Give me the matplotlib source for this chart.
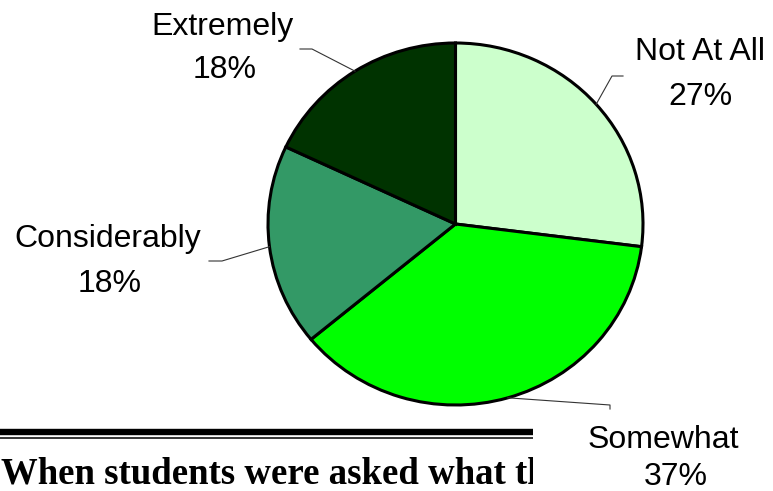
import matplotlib
matplotlib.use("Agg")
import matplotlib.pyplot as plt
import numpy as np

# data
labels = ["Not At All", "Somewhat", "Considerably", "Extremely"]
values = [27, 37, 18, 18]
colors = ["#CCFFCC", "#00FF00", "#339966", "#003300"]

# label layout in image pixels (x, baseline y), top-left origin
name_pos = [(700, 60), (663, 448), (108, 247), (222, 35)]
pct_pos = [(700, 105), (676, 485), (110, 292), (225, 78)]
leader_elbow = [(612, 76), (610, 405), (222, 261), (312, 49)]
leader_end = [(623, 76), (610, 409), (209, 261), (300, 49)]

W, H = 773, 491
cx, cy = 455.5, 224.0   # pie centre in pixels
rx, ry = 187.5, 181.0   # pie radii in pixels (slightly squashed, as in the original)


def px(x, y):
    """pixel (top-left origin) -> axes data units"""
    return (x - cx) / rx, (cy - y) / ry


plt.rcParams["font.family"] = ["Liberation Sans", "DejaVu Sans"]

fig = plt.figure(figsize=(W / 100, H / 100), dpi=100)
ax = fig.add_axes([0, 0, 1, 1])

wedges, _ = ax.pie(values, colors=colors, startangle=90, counterclock=False,
                   wedgeprops=dict(edgecolor="black", linewidth=2.2))
ax.set_aspect("auto")
ax.set_xlim(-cx / rx, (W - cx) / rx)
ax.set_ylim(-(H - cy) / ry, cy / ry)
ax.axis("off")

# labels with leader lines from the middle of each wedge
for w, lab, v, npos, ppos, el, en in zip(wedges, labels, values, name_pos,
                                         pct_pos, leader_elbow, leader_end):
    ang = np.deg2rad((w.theta1 + w.theta2) / 2)
    x0, y0 = np.cos(ang), np.sin(ang)
    xe, ye = px(*el)
    xn, yn = px(*en)
    ax.plot([x0, xe, xn], [y0, ye, yn], color="#333333", lw=0.8, clip_on=False)
    ax.text(*px(*npos), lab, ha="center", va="baseline", fontsize=23)
    ax.text(*px(*ppos), f"{v}%", ha="center", va="baseline", fontsize=23)

# page fragment below the chart: double rule and cut-off heading
tax = fig.add_axes([0, 0, 533 / W, 1])
tax.set_xlim(0, 533)
tax.set_ylim(H, 0)
tax.axis("off")
tax.plot([0, 533], [432, 432], color="black", lw=4.6, solid_capstyle="butt")
tax.plot([0, 533], [438.3, 438.3], color="black", lw=1.1, solid_capstyle="butt")
tax.text(1, 484, "When students were asked what they", fontsize=26.5,
         fontweight="bold", family="Liberation Serif", va="baseline",
         clip_on=True)

fig.savefig("out.png", dpi=100)
